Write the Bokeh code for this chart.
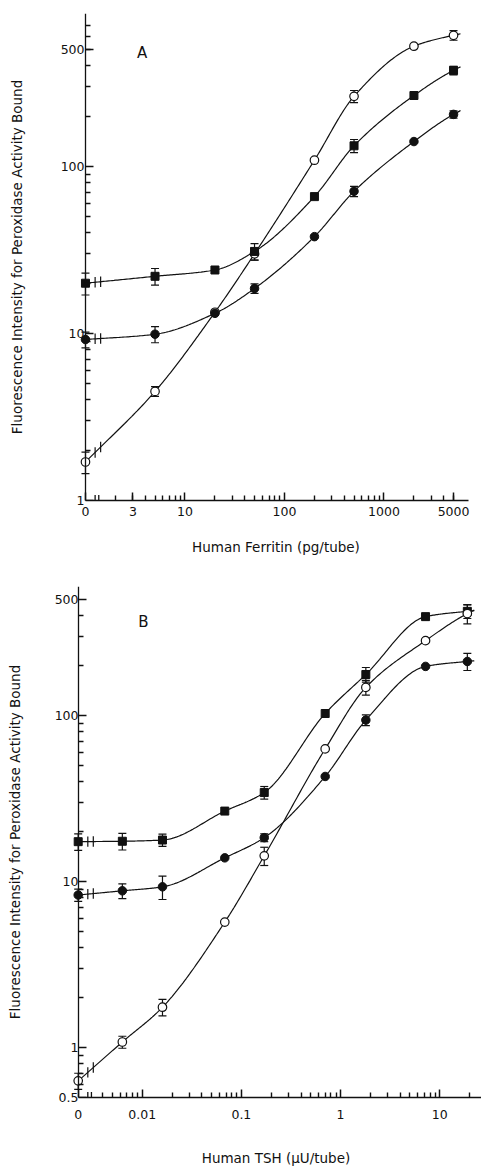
import numpy as np
from bokeh.plotting import figure
from bokeh.layouts import column
from bokeh.models import (Range1d, FixedTicker, CustomJSTickFormatter, ColumnDataSource,
                          Whisker, TeeHead, Label, LogAxis)
from bokeh.embed import file_html
from bokeh.resources import INLINE

# ---------------- data: panel A (Human ferritin) ----------------
ferritin_dose = [0, 5, 20, 50, 200, 500, 2000, 5000]
a_open = [1.7, 4.5, 13.4, 30, 109, 263, 525, 610]
a_open_err = [0.25, 0.3, 0, 2.5, 0, 22, 0, 40]
a_square = [20, 22, 24, 31, 66, 133, 266, 376]
a_square_err = [3, 2.5, 0, 3.5, 0, 12, 0, 22]
a_filled = [9.2, 9.9, 13.2, 18.6, 38, 71, 141, 205]
a_filled_err = [1.0, 1.1, 0, 1.2, 0, 5, 0, 10]

# ---------------- data: panel B (Human TSH) ----------------
tsh_dose = [0, 0.0063, 0.016, 0.068, 0.17, 0.7, 1.8, 7.2, 19]
b_square = [17.4, 17.5, 17.8, 26.6, 34.4, 103, 177, 395, 425]
b_square_err = [2.0, 2.0, 1.5, 0, 3, 0, 18, 0, 40]
b_open = [0.63, 1.08, 1.75, 5.7, 14.3, 63, 148, 283, 412]
b_open_err = [0.07, 0.09, 0.2, 0, 1.8, 0, 15, 0, 55]
b_filled = [8.3, 8.8, 9.3, 13.9, 18.4, 43, 94, 198, 212]
b_filled_err = [0.7, 0.9, 1.5, 0, 1, 0, 7, 0, 25]

# tick labels
a_xticks = [1, 3, 10, 100, 1000, 5000]
a_xlabels = ["0", "3", "10", "100", "1000", "5000"]
a_xminor = [2, 3, 4, 5, 6, 7, 8, 9, 20, 30, 40, 50, 60, 70, 80, 90,
            200, 300, 400, 500, 600, 700, 800, 900, 2000, 3000, 4000, 5000]
a_yticks = [1, 10, 100, 500]
a_ylabels = ["1", "10", "100", "500"]
a_yminor = [2, 3, 4, 5, 6, 7, 8, 9, 20, 30, 40, 50, 60, 70, 80, 90,
            200, 300, 400, 500, 600, 700]

B_ZERO = 0.00226
b_xticks = [B_ZERO, 0.01, 0.1, 1, 10]
b_xlabels = ["0", "0.01", "0.1", "1", "10"]
b_xminor = [0.004, 0.005, 0.006, 0.007, 0.008, 0.009,
            0.02, 0.03, 0.04, 0.05, 0.06, 0.07, 0.08, 0.09,
            0.2, 0.3, 0.4, 0.5, 0.6, 0.7, 0.8, 0.9,
            2, 3, 4, 5, 6, 7, 8, 9, 20]
b_yticks = [0.5, 1, 10, 100, 500]
b_ylabels = ["0.5", "1", "10", "100", "500"]
b_yminor = [0.6, 0.7, 0.8, 0.9, 2, 3, 4, 5, 6, 7, 8, 9,
            20, 30, 40, 50, 60, 70, 80, 90, 200, 300, 400]

YLABEL = "Fluorescence Intensity for Peroxidase Activity Bound"
FONT = "DejaVu Sans"
INK = "#111111"


def pchip(x, y, per=40):
    x = np.asarray(x, float)
    y = np.asarray(y, float)
    h = np.diff(x)
    d = np.diff(y) / h
    m = np.zeros_like(x)
    for k in range(1, len(x) - 1):
        if d[k - 1] * d[k] <= 0:
            m[k] = 0.0
        else:
            w1 = 2 * h[k] + h[k - 1]
            w2 = h[k] + 2 * h[k - 1]
            m[k] = (w1 + w2) / (w1 / d[k - 1] + w2 / d[k])
    m[0] = d[0]
    m[-1] = d[-1] * 0.8
    xs, ys = [], []
    t = np.linspace(0, 1, per)
    h00 = 2 * t**3 - 3 * t**2 + 1
    h10 = t**3 - 2 * t**2 + t
    h01 = -2 * t**3 + 3 * t**2
    h11 = t**3 - t**2
    for k in range(len(x) - 1):
        xs.append(x[k] + t * h[k])
        ys.append(h00 * y[k] + h10 * h[k] * m[k] + h01 * y[k + 1] + h11 * h[k] * m[k + 1])
    tail = np.linspace(0, 0.07, 6)[1:]
    xs.append(x[-1] + tail)
    ys.append(y[-1] + tail * m[-1])
    return np.concatenate(xs), np.concatenate(ys)


def formatter(tv, lab):
    return CustomJSTickFormatter(args=dict(tv=tv, lab=lab), code="""
        for (let i = 0; i < tv.length; i++) {
            if (Math.abs(Math.log10(tv[i]) - Math.log10(tick)) < 1e-6) return lab[i];
        }
        return "";
    """)


def style_ticks(ax):
    ax.axis_line_color = INK
    ax.axis_line_width = 1.3
    ax.major_tick_line_color = INK
    ax.minor_tick_line_color = INK
    ax.major_tick_line_width = 1.5
    ax.minor_tick_line_width = 1.4
    ax.major_tick_in = 8
    ax.major_tick_out = 0
    ax.minor_tick_in = 5
    ax.minor_tick_out = 0


def style_text(ax):
    ax.major_label_text_font = FONT
    ax.major_label_text_font_size = "12.5px"
    ax.major_label_text_color = INK
    ax.axis_label_text_font = FONT
    ax.axis_label_text_font_size = "13.5px"
    ax.axis_label_text_font_style = "normal"
    ax.axis_label_text_color = INK


def make_panel(dose, series, zero_pos, xr, yr, xbound_end, xt, xl, xm, yt, yl, ym,
               xlabel, letter, letter_xy, borders, frame, x_standoffs, y_standoffs):
    p = figure(x_axis_type="log", y_axis_type="log",
               x_range=Range1d(*xr), y_range=Range1d(*yr),
               frame_width=frame[0], frame_height=frame[1],
               min_border_left=borders[0], min_border_right=borders[1],
               min_border_top=borders[2], min_border_bottom=borders[3],
               output_backend="svg", toolbar_location=None)
    p.outline_line_color = None
    p.xgrid.visible = False
    p.ygrid.visible = False

    xpos = np.array([zero_pos if d == 0 else d for d in dose], float)
    lx = np.log10(xpos)

    # fitted curves with axis-break marks near the zero dose
    for vals, errs, kind in series:
        cx, cy = pchip(lx, np.log10(vals))
        p.line(10**cx, 10**cy, line_color=INK, line_width=1.2)
        bx = zero_pos * np.array([1.25, 1.42])
        by = 10**np.interp(np.log10(bx), cx, cy)
        p.segment(x0=bx, x1=bx, y0=by / 1.075, y1=by * 1.075, line_color=INK, line_width=1.2)

    # break marks on the x-axis
    bx = zero_pos * np.array([1.25, 1.36])
    p.segment(x0=bx, x1=bx, y0=[yr[0]] * 2, y1=[yr[0] * 1.08] * 2, line_color=INK, line_width=1.3)

    # error bars
    for vals, errs, kind in series:
        v = np.array(vals, float)
        e = np.array(errs, float)
        keep = e > 0
        src = ColumnDataSource(dict(base=xpos[keep], upper=(v + e)[keep], lower=(v - e)[keep]))
        w = Whisker(source=src, base="base", upper="upper", lower="lower", dimension="height",
                    line_color=INK, line_width=1.2, level="underlay",
                    upper_head=TeeHead(size=8, line_color=INK, line_width=1.2),
                    lower_head=TeeHead(size=8, line_color=INK, line_width=1.2))
        p.add_layout(w)

    # markers
    for vals, errs, kind in series:
        if kind == "square":
            p.scatter(xpos, vals, marker="square", size=8, fill_color=INK, line_color=INK)
        elif kind == "filled":
            p.scatter(xpos, vals, marker="circle", size=8.5, fill_color=INK, line_color=INK)
        else:
            p.scatter(xpos, vals, marker="circle", size=8.5, fill_color="white",
                      line_color=INK, line_width=1.2)

    # x axis
    xa = p.xaxis[0]
    xa.ticker = FixedTicker(ticks=xt, minor_ticks=xm)
    xa.formatter = formatter(xt, xl)
    xa.bounds = (zero_pos, xbound_end)
    xa.axis_label = xlabel
    style_ticks(xa)
    style_text(xa)
    xa.major_label_standoff = x_standoffs[0]
    xa.axis_label_standoff = x_standoffs[1]

    # y axis line + ticks at the zero-dose position
    ya = p.yaxis[0]
    ya.ticker = FixedTicker(ticks=yt, minor_ticks=ym)
    ya.formatter = CustomJSTickFormatter(code="return '';")
    ya.fixed_location = zero_pos
    ya.major_label_standoff = 0
    style_ticks(ya)

    # y tick labels + title
    yl_axis = LogAxis(ticker=FixedTicker(ticks=yt), formatter=formatter(yt, yl),
                      axis_label=YLABEL, axis_line_color=None,
                      major_tick_line_color=None, minor_tick_line_color=None,
                      major_tick_in=0, major_tick_out=0, minor_tick_in=0, minor_tick_out=0,
                      major_label_standoff=y_standoffs[0], axis_label_standoff=y_standoffs[1])
    style_text(yl_axis)
    p.add_layout(yl_axis, "left")

    p.add_layout(Label(x=letter_xy[0], y=letter_xy[1], text=letter, text_font=FONT,
                       text_font_size="15px", text_color=INK,
                       text_align="center", text_baseline="middle"))
    return p


pa = make_panel(ferritin_dose,
                [(a_open, a_open_err, "open"), (a_square, a_square_err, "square"),
                 (a_filled, a_filled_err, "filled")],
                1.0, (0.707, 9550), (1, 824), 7000,
                a_xticks, a_xlabels, a_xminor, a_yticks, a_ylabels, a_yminor,
                "Human Ferritin (pg/tube)", "A", (3.7, 475),
                (70, 0, 13, 75), (411, 487), (6, 20), (-14, 33))

pb = make_panel(tsh_dose,
                [(b_square, b_square_err, "square"), (b_open, b_open_err, "open"),
                 (b_filled, b_filled_err, "filled")],
                B_ZERO, (0.00189, 26.4), (0.5, 600), 26.4,
                b_xticks, b_xlabels, b_xminor, b_yticks, b_ylabels, b_yminor,
                "Human TSH (μU/tube)", "B", (0.0103, 365),
                (70, 0, 11, 67), (411, 511), (12, 28), (-8, 29))

layout = column(pa, pb, spacing=0)
open("out.html", "w").write(file_html(layout, INLINE))
